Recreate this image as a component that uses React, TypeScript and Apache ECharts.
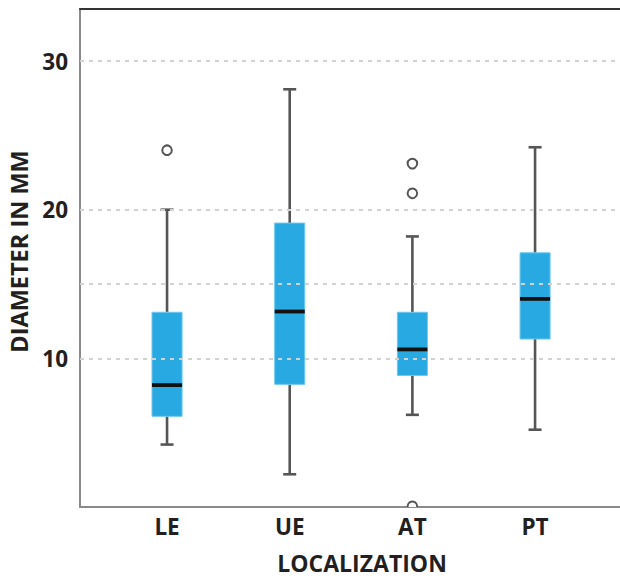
import React, { useEffect, useRef } from "react";
import * as echarts from "echarts";

const categories = ["LE", "UE", "AT", "PT"];
// [min, Q1, median, Q3, max]
const boxValues = [
  [4.2, 6.1, 8.2, 13.1, 20.0],
  [2.2, 8.25, 13.15, 19.1, 28.1],
  [6.2, 8.85, 10.6, 13.1, 18.2],
  [5.2, 11.3, 14.0, 17.1, 24.2],
];
// [categoryIndex, value]
const outliers = [
  [0, 24.0],
  [2, 23.1],
  [2, 21.1],
  [2, 0.05],
];
const gridLineValues = [10, 15, 20, 30];
const yTickLabels = [10, 20, 30];

const FONT = "'Open Sans', sans-serif";
const TEXT = "#231f20";

export default function App() {
  const ref = useRef<HTMLDivElement>(null);
  useEffect(() => {
    if (!ref.current) return;
    const chart = echarts.init(ref.current, undefined, { renderer: "svg" });
    const yMin = 0;
    const yMax = 33.5;
    const option: any = {
      animation: false,
      grid: [
        { left: 80, right: 0, top: 9, bottom: 73, outerBoundsMode: "none", containLabel: false },
        { left: 105.7, width: 490.7, top: 9, bottom: 73, outerBoundsMode: "none", containLabel: false },
      ],
      xAxis: [
        {
          gridIndex: 0, type: "value", min: 0, max: 1, position: "bottom",
          axisLine: { show: true, lineStyle: { color: "#8a8a8a", width: 2 } },
          axisTick: { show: false }, axisLabel: { show: false }, splitLine: { show: false },
        },
        {
          gridIndex: 0, type: "value", min: 0, max: 1, position: "top",
          axisLine: { show: true, lineStyle: { color: "#333", width: 2 } },
          axisTick: { show: false }, axisLabel: { show: false }, splitLine: { show: false },
        },
        {
          gridIndex: 1, type: "category", data: categories,
          axisLine: { show: false }, axisTick: { show: false }, splitLine: { show: false },
          axisLabel: { color: TEXT, fontFamily: FONT, fontWeight: "bold", fontSize: 22.5, margin: 8 },
          name: "LOCALIZATION", nameLocation: "middle", nameGap: 46,
          nameTextStyle: {
            color: TEXT, fontFamily: FONT, fontWeight: "bold", fontSize: 23,
            lineHeight: 20, padding: [0, 0, 0, 22],
          },
        },
      ],
      yAxis: [
        {
          gridIndex: 0, type: "value", min: yMin, max: yMax, interval: 10,
          axisLine: { show: true, lineStyle: { color: "#8a8a8a", width: 2 } },
          axisTick: { show: false }, splitLine: { show: false },
          axisLabel: {
            color: TEXT, fontFamily: FONT, fontWeight: "bold", fontSize: 22.5, margin: 12,
            formatter: (v: number) => (yTickLabels.includes(v) ? String(v) : ""),
          },
          name: "DIAMETER IN MM", nameLocation: "middle", nameGap: 48,
          nameTextStyle: {
            color: TEXT, fontFamily: FONT, fontWeight: "bold", fontSize: 23.5,
            padding: [0, 0, 0, 13],
          },
        },
        {
          gridIndex: 1, type: "value", min: yMin, max: yMax, show: false,
          axisLine: { show: false }, axisLabel: { show: false },
          axisTick: { show: false }, splitLine: { show: false },
        },
      ],
      series: [
        {
          type: "scatter", xAxisIndex: 0, yAxisIndex: 0, data: [], silent: true,
          markLine: {
            silent: true, symbol: "none", label: { show: false },
            lineStyle: { color: "#d2d2d2", width: 2, type: [4, 5] },
            data: gridLineValues.map((v) => ({ yAxis: v })),
          },
        },
        {
          type: "custom", xAxisIndex: 2, yAxisIndex: 1, clip: true,
          data: boxValues.map((b, i) => [i, ...b]),
          renderItem: (params: any, api: any) => {
            const i = api.value(0);
            const bw = api.size([1, 0])[0] * 0.245;
            const cw = 13;
            const pMin = api.coord([i, api.value(1)]);
            const pQ1 = api.coord([i, api.value(2)]);
            const pMed = api.coord([i, api.value(3)]);
            const pQ3 = api.coord([i, api.value(4)]);
            const pMax = api.coord([i, api.value(5)]);
            const x = pMed[0];
            const wStyle = { stroke: "#555", lineWidth: 2.6 };
            return {
              type: "group",
              children: [
                { type: "line", shape: { x1: x, y1: pMax[1], x2: x, y2: pQ3[1] }, style: wStyle },
                { type: "line", shape: { x1: x, y1: pQ1[1], x2: x, y2: pMin[1] }, style: wStyle },
                { type: "line", shape: { x1: x - cw / 2, y1: pMax[1], x2: x + cw / 2, y2: pMax[1] }, style: wStyle },
                { type: "line", shape: { x1: x - cw / 2, y1: pMin[1], x2: x + cw / 2, y2: pMin[1] }, style: wStyle },
                {
                  type: "rect",
                  shape: { x: x - bw / 2, y: pQ3[1], width: bw, height: pQ1[1] - pQ3[1] },
                  style: { fill: "#29a9e1", stroke: "#6cc8ef", lineWidth: 1 },
                },
                {
                  type: "line",
                  shape: { x1: x - bw / 2, y1: pMed[1], x2: x + bw / 2, y2: pMed[1] },
                  style: { stroke: "#111", lineWidth: 3.8 },
                },
              ],
            };
          },
        },
        {
          type: "custom", xAxisIndex: 2, yAxisIndex: 1, clip: true,
          data: outliers,
          renderItem: (params: any, api: any) => {
            const p = api.coord([api.value(0), api.value(1)]);
            return {
              type: "circle",
              shape: { cx: p[0], cy: p[1], r: 4.8 },
              style: { fill: "#fff", stroke: "#555", lineWidth: 2 },
            };
          },
        },
      ],
    };
    chart.setOption(option);
    return () => chart.dispose();
  }, []);
  return (
    <div
      ref={ref}
      style={{ position: "absolute", left: 0, top: 0, width: 620, height: 580 }}
    />
  );
}
